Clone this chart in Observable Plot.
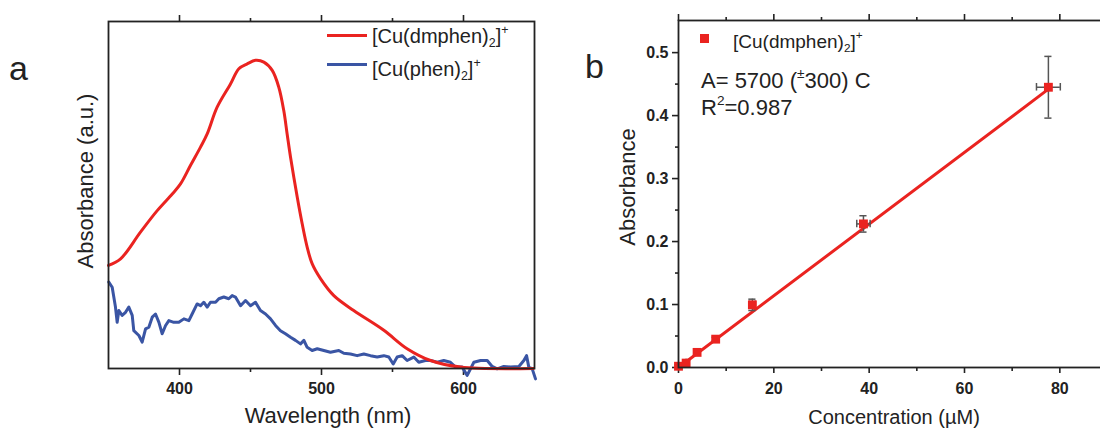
<!DOCTYPE html>
<html>
<head>
<meta charset="utf-8">
<script src="https://cdn.jsdelivr.net/npm/d3@7"></script>
<script src="https://cdn.jsdelivr.net/npm/@observablehq/plot@0.6"></script>
<style>
  html, body { margin: 0; padding: 0; background: #fff; }
  body { width: 1100px; height: 430px; overflow: hidden; position: relative; font-family: "Liberation Sans", Arial, sans-serif; color: #222; }
  .abs { position: absolute; line-height: 1; white-space: nowrap; }
  .plot { position: absolute; top: 0; }
  .plot svg { max-width: none !important; display: block; }
  sub, sup { font-size: 0.62em; line-height: 0; }
  sub { vertical-align: -0.35em; }
  sup { vertical-align: 0.75em; }
  .rot { transform: translate(-50%, -50%) rotate(-90deg); }
  .leg-line { position: absolute; height: 3px; }
</style>
</head>
<body>
<div id="p1" class="plot" style="left:0px; width:560px;"></div>
<div id="p2" class="plot" style="left:560px; width:557px;"></div>

<div class="abs" style="left:9px; top:51px; font-size:34px;">a</div>
<div class="abs" style="left:585px; top:49px; font-size:34px;">b</div>

<div class="abs rot" style="left:86px; top:181px; font-size:22px;">Absorbance (a.u.)</div>
<div class="abs" style="left:328px; top:405px; font-size:22px; transform:translateX(-50%);">Wavelength (nm)</div>

<div class="leg-line" style="left:327px; top:34px; width:40px; background:#ea2320;"></div>
<div class="abs" style="left:372px; top:26px; font-size:20px;">[Cu(dmphen)<sub>2</sub>]<sup>+</sup></div>
<div class="leg-line" style="left:327px; top:63px; width:40px; background:#3a55a4;"></div>
<div class="abs" style="left:372px; top:59px; font-size:20px;">[Cu(phen)<sub>2</sub>]<sup>+</sup></div>

<div class="abs rot" style="left:628px; top:187px; font-size:22px;">Absorbance</div>
<div class="abs" style="left:894px; top:407px; font-size:20px; transform:translateX(-50%);">Concentration (µM)</div>

<div class="abs" style="left:700px; top:34px; width:9px; height:9px; background:#ea2320;"></div>
<div class="abs" style="left:733px; top:32px; font-size:19px;">[Cu(dmphen)<sub>2</sub>]<sup>+</sup></div>
<div class="abs" style="left:701px; top:70px; font-size:22px;">A= 5700 (<sup>±</sup>300) C</div>
<div class="abs" style="left:701px; top:97px; font-size:22px;">R<sup>2</sup>=0.987</div>

<script>
// ---------- Panel a: UV-vis spectra ----------
const wavelengthDmphen = [350, 358.5, 372.5, 384.3, 394.9, 400.7, 407.7, 414.8, 419.5, 426.5, 435.9, 441.8, 447.7, 453.5, 459.4, 465.3, 469.9, 473.4, 475.8, 478.2, 482.9, 486.4, 489.9, 493.4, 499.3, 508.7, 522.7, 543.9, 560.3, 576.8, 597.9, 649.3];
const absDmphen = [0.297, 0.316, 0.393, 0.455, 0.503, 0.532, 0.585, 0.638, 0.676, 0.753, 0.820, 0.864, 0.878, 0.888, 0.883, 0.859, 0.811, 0.744, 0.676, 0.609, 0.494, 0.417, 0.350, 0.302, 0.259, 0.210, 0.167, 0.110, 0.057, 0.023, 0.004, 0.0];

const wavelengthPhen = [350.2, 352.6, 354.9, 356.1, 357.3, 359.6, 362.0, 364.3, 366.7, 367.8, 371.4, 373.7, 376.1, 378.4, 380.8, 383.1, 385.5, 387.8, 390.2, 392.5, 396.0, 399.5, 403.1, 406.6, 408.9, 412.4, 414.8, 417.1, 419.5, 421.8, 425.4, 427.7, 431.2, 434.7, 437.1, 439.4, 443.0, 446.5, 450.0, 453.5, 457.0, 460.6, 464.1, 467.6, 471.1, 474.6, 478.2, 481.7, 485.2, 487.6, 489.9, 493.4, 497.0, 501.6, 506.3, 512.2, 515.7, 520.4, 525.1, 529.8, 534.5, 539.2, 543.9, 547.4, 550.5, 553.3, 556.8, 560.3, 565.0, 568.5, 573.2, 576.8, 581.5, 586.1, 590.8, 594.4, 599.1, 602.6, 607.3, 612.0, 616.7, 620.2, 623.7, 628.4, 633.1, 639.0, 642.5, 644.4, 646.0, 648.4, 650.7];
const absPhen = [0.249, 0.234, 0.177, 0.133, 0.167, 0.153, 0.162, 0.177, 0.153, 0.109, 0.095, 0.076, 0.114, 0.119, 0.148, 0.157, 0.133, 0.100, 0.124, 0.138, 0.133, 0.133, 0.143, 0.138, 0.157, 0.186, 0.181, 0.191, 0.177, 0.191, 0.191, 0.201, 0.206, 0.201, 0.210, 0.206, 0.181, 0.196, 0.181, 0.191, 0.167, 0.157, 0.143, 0.124, 0.109, 0.100, 0.090, 0.081, 0.071, 0.081, 0.061, 0.052, 0.057, 0.052, 0.047, 0.052, 0.044, 0.042, 0.037, 0.042, 0.037, 0.033, 0.037, 0.033, 0.013, 0.033, 0.037, 0.023, 0.033, 0.018, 0.023, 0.023, 0.018, 0.023, 0.018, 0.004, 0.004, -0.020, 0.018, 0.023, 0.023, 0.006, -0.001, 0.006, 0.004, 0.006, 0.023, 0.037, 0.004, -0.001, -0.030];

const wavelengthMajorTicks = [400, 500, 600];
const wavelengthMinorTicks = [450, 550];

// ---------- Panel b: calibration ----------
const concentration = [0, 1.6, 3.9, 7.8, 15.5, 38.8, 77.6];
const absorbance = [0.002, 0.007, 0.024, 0.045, 0.0995, 0.228, 0.445];
const absorbanceErr = [0.002, 0.002, 0.003, 0.003, 0.009, 0.013, 0.049];
const concentrationErr = [0.1, 0.1, 0.2, 0.3, 0.6, 1.4, 2.5];
const fitConcentration = [0, 77.6];
const fitAbsorbance = [0.0, 0.442];

const concMajorTicks = [0, 20, 40, 60, 80];
const concMinorTicks = [10, 30, 50, 70];
const absMajorTicks = [0.0, 0.1, 0.2, 0.3, 0.4, 0.5];
const absMinorTicks = [0.05, 0.15, 0.25, 0.35, 0.45];

const RED = "#ea2320";
const BLUE = "#3a55a4";
const ERR = "#555555";

const dmphen = wavelengthDmphen.map((w, i) => ({w, a: absDmphen[i]}));
const phen = wavelengthPhen.map((w, i) => ({w, a: absPhen[i]}));
const calib = concentration.map((c, i) => ({c, a: absorbance[i], ea: absorbanceErr[i], ec: concentrationErr[i]}));
const fit = fitConcentration.map((c, i) => ({c, a: fitAbsorbance[i]}));

const style = {fontFamily: "'Liberation Sans', Arial, sans-serif", fontSize: "16px", fontWeight: "bold", color: "#222", background: "transparent", maxWidth: "none"};

const p1 = Plot.plot({
  width: 560, height: 430,
  marginLeft: 108, marginRight: 26, marginTop: 21, marginBottom: 62,
  style,
  x: {domain: [350, 650], axis: null},
  y: {domain: [0, 1], axis: null},
  marks: [
    Plot.axisX({ticks: wavelengthMajorTicks, tickSize: 7, tickPadding: 7, tickFormat: d => String(d), strokeWidth: 1.6, label: null}),
    Plot.axisX({ticks: wavelengthMinorTicks, tickSize: 4, text: null, strokeWidth: 1.6, label: null}),
    Plot.axisX({anchor: "top", ticks: wavelengthMajorTicks, tickSize: 7, text: null, strokeWidth: 1.6, label: null}),
    Plot.axisX({anchor: "top", ticks: wavelengthMinorTicks, tickSize: 4, text: null, strokeWidth: 1.6, label: null}),
    Plot.line(phen, {x: "w", y: "a", stroke: BLUE, strokeWidth: 3, strokeLinejoin: "round"}),
    Plot.line(dmphen, {x: "w", y: "a", stroke: RED, strokeWidth: 3, curve: "catmull-rom"}),
    Plot.frame({stroke: "#222", strokeWidth: 1.8})
  ]
});
document.getElementById("p1").appendChild(p1);

const capX = 0.75, capY = 0.006;
const p2 = Plot.plot({
  width: 557, height: 430,
  marginLeft: 118, marginRight: 10, marginTop: 20, marginBottom: 63,
  style,
  x: {domain: [0, 90], axis: null},
  y: {domain: [0, 0.551], axis: null},
  marks: [
    Plot.axisX({ticks: concMajorTicks, tickSize: 6, tickPadding: 9, tickFormat: d => String(d), strokeWidth: 1.6, label: null}),
    Plot.axisX({ticks: concMinorTicks, tickSize: 4, text: null, strokeWidth: 1.6, label: null}),
    Plot.axisX({anchor: "top", ticks: concMajorTicks, tickSize: 7, text: null, strokeWidth: 1.6, label: null}),
    Plot.axisX({anchor: "top", ticks: concMinorTicks, tickSize: 4, text: null, strokeWidth: 1.6, label: null}),
    Plot.axisY({ticks: absMajorTicks, tickSize: 6, tickPadding: 4, tickFormat: d3.format(".1f"), strokeWidth: 1.6, label: null}),
    Plot.axisY({ticks: absMinorTicks, tickSize: 3, text: null, strokeWidth: 1.6, label: null}),
    Plot.line(fit, {x: "c", y: "a", stroke: RED, strokeWidth: 3}),
    // vertical error bars + caps
    Plot.ruleX(calib, {x: "c", y1: d => d.a - d.ea, y2: d => d.a + d.ea, stroke: ERR, strokeWidth: 1.5}),
    Plot.ruleY(calib, {y: d => d.a + d.ea, x1: d => d.c - capX, x2: d => d.c + capX, stroke: ERR, strokeWidth: 1.5}),
    Plot.ruleY(calib, {y: d => d.a - d.ea, x1: d => d.c - capX, x2: d => d.c + capX, stroke: ERR, strokeWidth: 1.5}),
    // horizontal error bars + caps
    Plot.ruleY(calib, {y: "a", x1: d => d.c - d.ec, x2: d => d.c + d.ec, stroke: ERR, strokeWidth: 1.5}),
    Plot.ruleX(calib, {x: d => d.c - d.ec, y1: d => d.a - capY, y2: d => d.a + capY, stroke: ERR, strokeWidth: 1.5}),
    Plot.ruleX(calib, {x: d => d.c + d.ec, y1: d => d.a - capY, y2: d => d.a + capY, stroke: ERR, strokeWidth: 1.5}),
    Plot.dot(calib, {x: "c", y: "a", symbol: "square", r: 5, fill: RED, stroke: "none"}),
    Plot.frame({stroke: "#222", strokeWidth: 1.8})
  ]
});
document.getElementById("p2").appendChild(p2);
</script>
</body>
</html>
